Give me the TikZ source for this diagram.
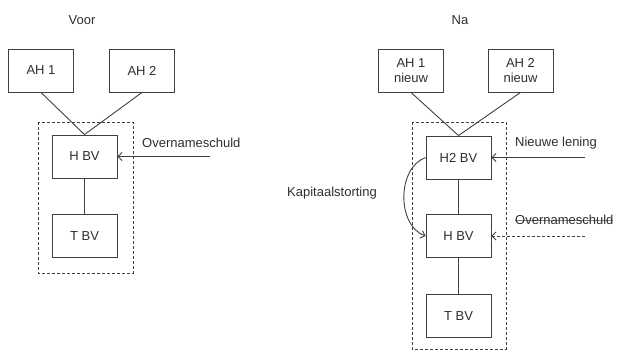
\documentclass[tikz,border=0pt]{standalone}
\usepackage{fontspec}
\setmainfont{Liberation Sans}
\usetikzlibrary{arrows.meta}
\definecolor{linegray}{HTML}{404040}
\definecolor{textgray}{HTML}{2E2E2E}
\newsavebox\doorbox
\newcommand{\doorhaal}[1]{\sbox\doorbox{#1}\rlap{\color{gray}\rule[0.3em]{\wd\doorbox}{0.5pt}}\usebox\doorbox}
\tikzset{
	entity/.style={draw=linegray, line width=0.9pt, minimum width=65pt, minimum height=43pt, inner sep=0pt, align=center, text=textgray},
	txt/.style={inner sep=0pt, text=textgray},
	eenheid/.style={draw=linegray, line width=0.9pt, dash pattern=on 3pt off 2pt},
	link/.style={draw=linegray, line width=0.9pt},
	flow/.style={link, -{Straight Barb[length=4pt,width=8pt]}},
}
\begin{document}
\begin{tikzpicture}[x=1pt, y=-1pt, font=\fontsize{13}{15}\selectfont]
	\useasboundingbox (0,0) rectangle (620,351);

	\draw[eenheid] (38,122) rectangle (133,273);
	\draw[eenheid] (412,122) rectangle (506,349);

	\node[txt] (voor) at (82,20) {Voor};
	\node[entity] (ah1) at (41,70.5) {AH 1};
	\node[entity] (ah2) at (142,70.5) {AH 2};
	\node[entity] (hbv) at (84.5,156.5) {H BV};
	\node[entity] (tbv) at (84.5,236) {T BV};
	\node[txt, anchor=west] (schuld) at (142,143) {Overnameschuld};
	\coordinate (schuldin) at (210,156.5);

	\node[txt] (na) at (460,20) {Na};
	\node[entity] (ah1n) at (411,70.5) {AH 1\\nieuw};
	\node[entity] (ah2n) at (520.5,70.5) {AH 2\\nieuw};
	\node[entity] (h2bvn) at (458.5,157.5) {H2 BV};
	\node[entity] (hbvn) at (458.5,236) {H BV};
	\node[entity] (tbvn) at (458.5,316) {T BV};
	\node[txt] (kapitaal) at (332,193) {Kapitaalstorting};
	\node[txt, anchor=west] (lening) at (515,143) {Nieuwe lening};
	\node[txt, anchor=west] (schuldn) at (515,220) {\doorhaal{Overnameschuld}};
	\coordinate (leningin) at (585,157.5);
	\coordinate (schuldnin) at (585,236);

	\draw[link] (ah1.south) -- (hbv.north);
	\draw[link] (ah2.south) -- (hbv.north);
	\draw[link] (hbv) -- (tbv);
	\draw[flow] (schuldin) -- (hbv.east);

	\draw[link] (ah1n.south) -- (h2bvn.north);
	\draw[link] (ah2n.south) -- (h2bvn.north);
	\draw[link] (h2bvn) -- (hbvn);
	\draw[link] (hbvn) -- (tbvn);
	\draw[flow] (leningin) -- (h2bvn.east);
	\draw[flow, dash pattern=on 3pt off 2pt] (schuldnin) -- (hbvn.east);
	\draw[flow] (h2bvn.west) to[bend right=70] (hbvn.west);
\end{tikzpicture}
\end{document}
